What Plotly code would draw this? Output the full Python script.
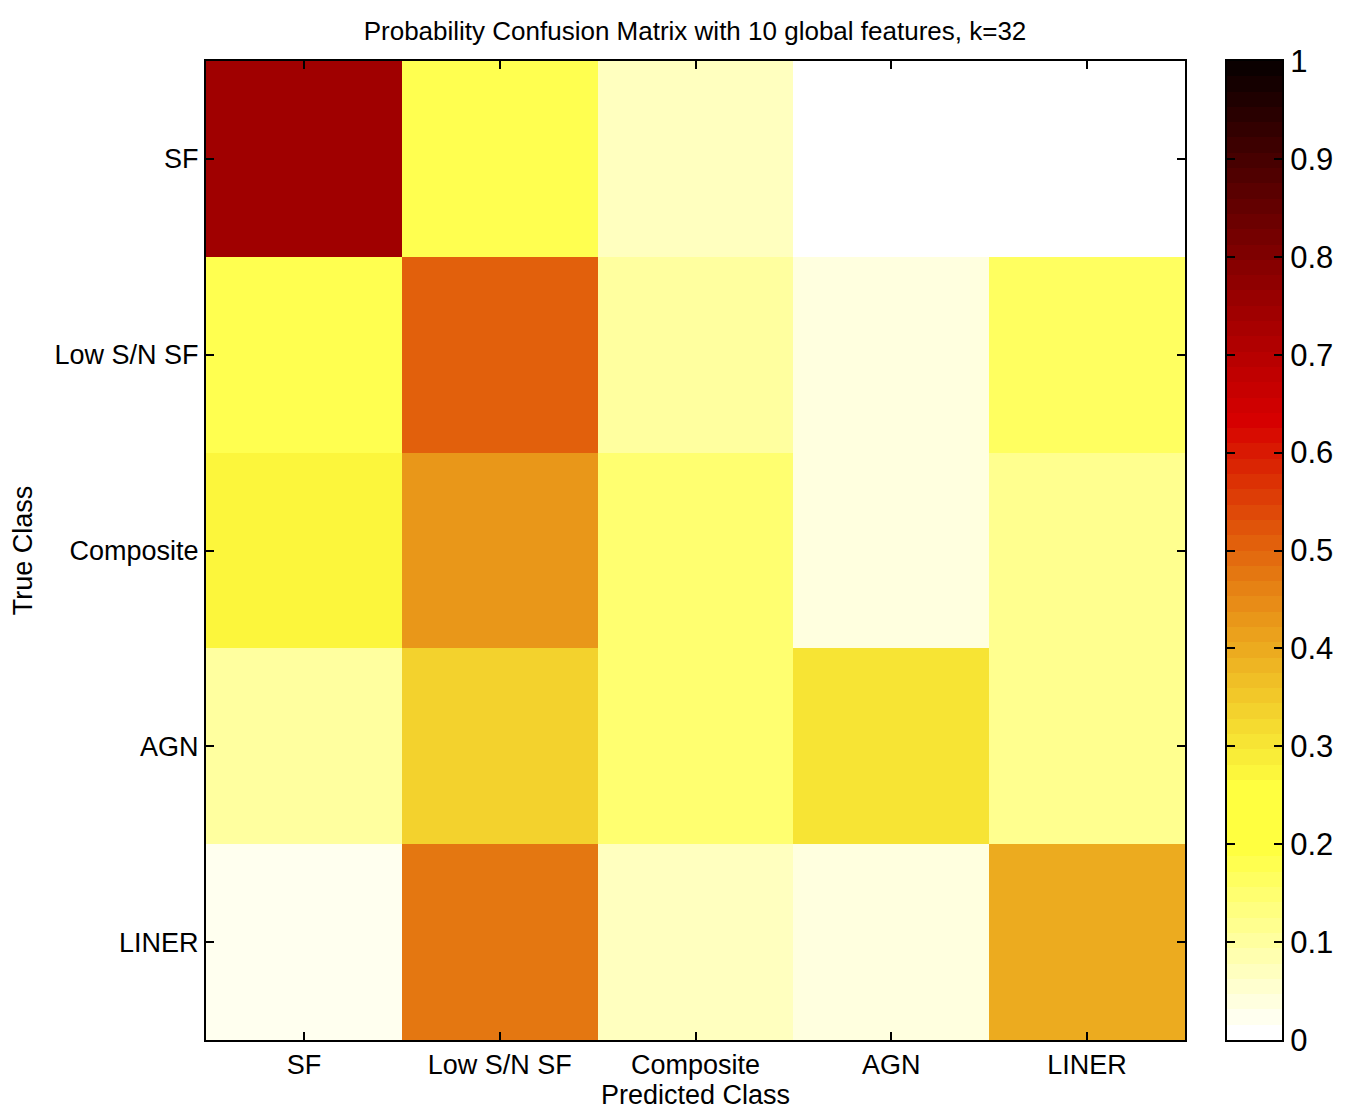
import numpy as np
import plotly.graph_objects as go

classes = ["SF", "Low S/N SF", "Composite", "AGN", "LINER"]

# rows = true class, columns = predicted class
row_sf = [0.745, 0.175, 0.07, 0.0, 0.0]
row_lowsn = [0.18, 0.51, 0.10, 0.04, 0.16]
row_comp = [0.28, 0.43, 0.15, 0.04, 0.11]
row_agn = [0.10, 0.33, 0.15, 0.30, 0.12]
row_liner = [0.02, 0.48, 0.07, 0.04, 0.40]

cbar_ticks = [0, 0.1, 0.2, 0.3, 0.4, 0.5, 0.6, 0.7, 0.8, 0.9, 1]
cbar_text = ["0", "0.1", "0.2", "0.3", "0.4", "0.5", "0.6", "0.7", "0.8", "0.9", "1"]

z = [row_sf, row_lowsn, row_comp, row_agn, row_liner]


# flipped matlab hot(64) as a stepped colorscale, toned a bit like the printed figure
def hot_flipped(m=64):
    n = int(3 * m / 8)
    r = np.r_[np.arange(1, n + 1) / n, np.ones(m - n)]
    g = np.r_[np.zeros(n), np.arange(1, n + 1) / n, np.ones(m - 2 * n)]
    b = np.r_[np.zeros(2 * n), np.arange(1, m - 2 * n + 1) / (m - 2 * n)]
    r2 = r * (1 - 0.16 * (1 - g) ** 0.8 * r)
    g2 = g + 0.05 * np.sin(np.pi * g)
    b2 = np.maximum(b, 0.25 * g ** 1.5)
    cols = np.clip(np.c_[r2, g2, b2], 0, 1)[::-1]
    scale = []
    for i, c in enumerate(cols):
        s = "rgb(%d,%d,%d)" % tuple(np.round(c * 255))
        scale.append([i / m, s])
        scale.append([(i + 1) / m, s])
    return scale


cmap = hot_flipped()
levels = (np.arange(64) + 0.5) / 64

fig = go.Figure()
fig.add_trace(go.Heatmap(z=z, x=classes, y=classes, colorscale=cmap,
                         zmin=0, zmax=1, showscale=False, hoverinfo="skip"))
fig.add_trace(go.Heatmap(z=[[v] for v in levels], x=[0], y=levels, colorscale=cmap,
                         zmin=0, zmax=1, showscale=False, xaxis="x2", yaxis="y2",
                         hoverinfo="skip"))

font = "Liberation Sans, Arial, Helvetica, sans-serif"
ax = dict(showline=True, linecolor="black", linewidth=2, mirror="ticks",
          ticks="inside", ticklen=8, tickwidth=2, tickcolor="black",
          showgrid=False, zeroline=False, tickfont=dict(size=27, color="black"))

fig.update_layout(
    width=1339, height=1111,
    margin=dict(l=198, r=60, t=53, b=79),
    paper_bgcolor="white", plot_bgcolor="white",
    font=dict(family=font, color="black"),
    title=dict(text="Probability Confusion Matrix with 10 global features, k=32",
               font=dict(size=26), x=687 / 1339, xanchor="center",
               y=1 - 23 / 1111, yanchor="middle", xref="container", yref="container"),
    xaxis=dict(ax, domain=[0, 979 / 1081], title=dict(text="Predicted Class",
               font=dict(size=27), standoff=4)),
    yaxis=dict(ax, domain=[0, 1], autorange="reversed",
               title=dict(text="True Class", font=dict(size=27), standoff=14)),
    xaxis2=dict(ax, domain=[(1227 - 206) / 1081, (1282 - 206) / 1081], anchor="y2",
                showticklabels=False, ticks="", range=[-0.5, 0.5]),
    yaxis2=dict(ax, domain=[0, 1], anchor="x2", side="right", range=[0, 1],
                tickvals=cbar_ticks, ticktext=cbar_text,
                tickfont=dict(size=31, color="black")),
)

fig.write_html("out.html")
